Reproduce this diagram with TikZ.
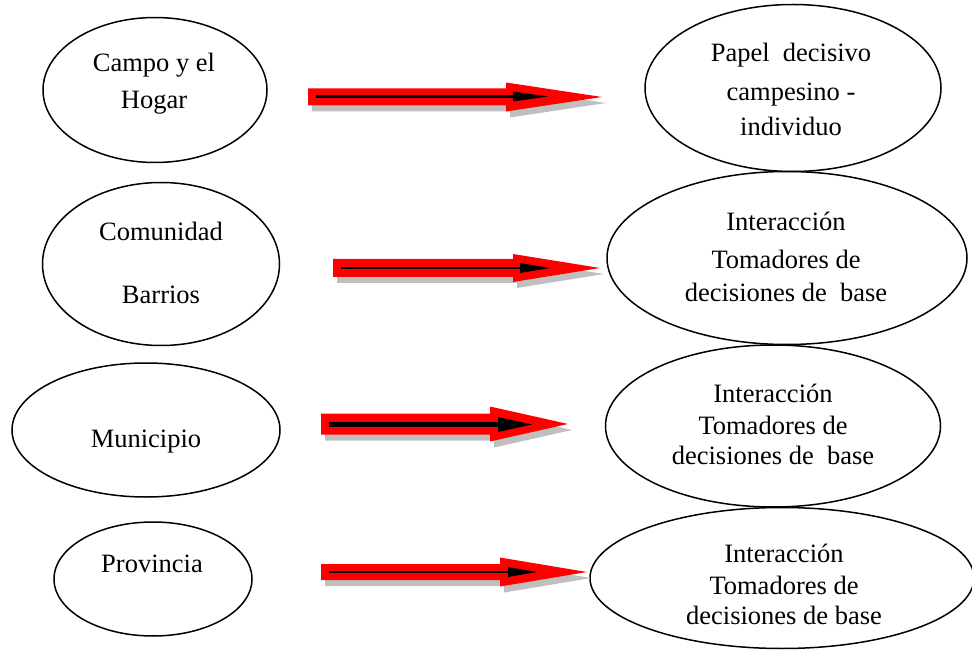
\documentclass[tikz,border=0pt]{standalone}
\usepackage{fontspec}
\setmainfont{Liberation Serif}
\tikzset{
  ell/.style={draw=black, line width=1.5pt, ellipse, inner sep=0pt},
  txt/.style={anchor=base, inner sep=0pt, font=\fontsize{26.5}{32}\selectfont},
  shadowfill/.style={fill=black!25, draw=none},
  redfill/.style={fill=red, draw=none},
  blackfill/.style={fill=black, draw=none},
}
\usetikzlibrary{shapes.geometric}
% red block arrow with grey shadow: start, y, half shaft, head base, half head, tip
\newcommand\rsArrowRed[6]{%
  \fill[shadowfill, shift={(4,6)}] (#1,#2-#3) -- (#4,#2-#3) -- (#4,#2-#5) -- (#6,#2) -- (#4,#2+#5) -- (#4,#2+#3) -- (#1,#2+#3) -- cycle;
  \fill[redfill] (#1,#2-#3) -- (#4,#2-#3) -- (#4,#2-#5) -- (#6,#2) -- (#4,#2+#5) -- (#4,#2+#3) -- (#1,#2+#3) -- cycle;
}
% inner black arrow: start, y, half line width, head base, half head, tip
\newcommand\rsArrowBlack[6]{%
  \fill[blackfill] (#1,#2-#3) -- (#4+1,#2-#3) -- (#4+1,#2+#3) -- (#1,#2+#3) -- cycle;
  \fill[blackfill] (#4,#2-#5) -- (#6,#2) -- (#4,#2+#5) -- cycle;
}
\begin{document}
\begin{tikzpicture}[x=1pt,y=-1pt]
\useasboundingbox (0,0) rectangle (972,652);

% ellipses
\node[ell, minimum width=224pt, minimum height=145pt] (l1) at (155,90) {};
\node[ell, minimum width=237pt, minimum height=163pt] (l2) at (161,264) {};
\node[ell, minimum width=268pt, minimum height=134pt] (l3) at (146,430) {};
\node[ell, minimum width=198pt, minimum height=114pt] (l4) at (153,579) {};
\node[ell, minimum width=296pt, minimum height=167pt] (r1) at (793,88) {};
\node[ell, minimum width=360pt, minimum height=173pt] (r2) at (787,258) {};
\node[ell, minimum width=335pt, minimum height=162pt] (r3) at (773,426) {};
\node[ell, minimum width=384pt, minimum height=141pt] (r4) at (782,578) {};

% texts
\node[txt] (t1a) at (154,72) {Campo y el};
\node[txt] (t1b) at (154,109) {Hogar};
\node[txt] (t2a) at (161,241) {Comunidad};
\node[txt] (t2b) at (161,304) {Barrios};
\node[txt] (t3a) at (146,447) {Municipio};
\node[txt] (t4a) at (152,572) {Provincia};

\node[txt] (u1a) at (791,62) {Papel\ \ decisivo};
\node[txt] (u1b) at (791,101) {campesino -};
\node[txt] (u1c) at (791,136) {individuo};
\node[txt] (u2a) at (786,231) {Interacción};
\node[txt] (u2b) at (786,269) {Tomadores de};
\node[txt] (u2c) at (786,302) {decisiones de\ \ base};
\node[txt] (u3a) at (773,402) {Interacción};
\node[txt] (u3b) at (773,434) {Tomadores de};
\node[txt] (u3c) at (773,464) {decisiones de\ \ base};
\node[txt] (u4a) at (784,562) {Interacción};
\node[txt] (u4b) at (784,594) {Tomadores de};
\node[txt] (u4c) at (784,624) {decisiones de base};

% arrow end points
\coordinate (a1s) at (308,97);  \coordinate (a1e) at (602,97);
\coordinate (a2s) at (333,268); \coordinate (a2e) at (600,268);
\coordinate (a3s) at (321,424); \coordinate (a3e) at (568,424);
\coordinate (a4s) at (321,572); \coordinate (a4e) at (587,572);

% arrows
\rsArrowRed{308}{97}{8.5}{506}{14.5}{602}
\rsArrowBlack{316}{96.5}{1.3}{513}{5}{548}

\rsArrowRed{333}{268}{9}{513}{14}{600}
\rsArrowBlack{341}{268}{1.3}{520}{5}{550}

\rsArrowRed{321}{424}{10.5}{490}{17.5}{568}
\rsArrowBlack{329}{424.5}{2.5}{498}{7.5}{532}

\rsArrowRed{321}{572}{8}{500}{14.5}{587}
\rsArrowBlack{329}{572}{1.3}{508}{5}{537}
\end{tikzpicture}
\end{document}
